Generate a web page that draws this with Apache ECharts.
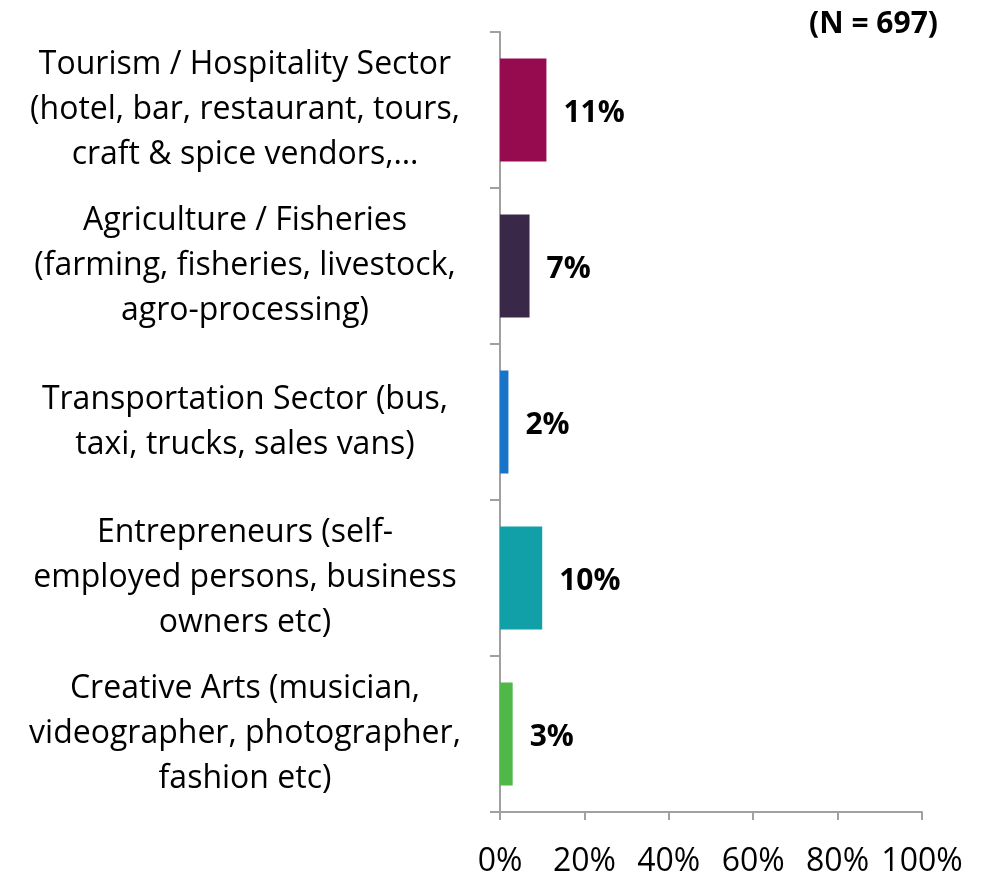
<!DOCTYPE html>
<html>
<head>
<meta charset="utf-8">
<script src="https://cdn.jsdelivr.net/npm/echarts@6/dist/echarts.min.js"></script>
<style>
  html, body { margin: 0; padding: 0; background: #fff; }
  #main { width: 981px; height: 878px; }
</style>
</head>
<body>
<div id="main"></div>
<script>
const categories = [
  'Tourism / Hospitality Sector\n(hotel, bar, restaurant, tours,\ncraft & spice vendors,…',
  'Agriculture / Fisheries\n(farming, fisheries, livestock,\nagro-processing)',
  'Transportation Sector (bus,\ntaxi, trucks, sales vans)',
  'Entrepreneurs (self-\nemployed persons, business\nowners etc)',
  'Creative Arts (musician,\nvideographer, photographer,\nfashion etc)'
];
const values = [11, 7, 2, 10, 3];
const barColors = ['#960A50', '#3A2848', '#1874C8', '#12A0A8', '#50B848'];
const xTicks = [0, 20, 40, 60, 80, 100];

const font = 'Open Sans, Noto Sans, sans-serif';
const chart = echarts.init(document.getElementById('main'));

chart.setOption({
  animation: false,
  title: {
    text: '(N = 697)',
    right: 38,
    top: 4,
    textStyle: { fontFamily: font, fontSize: 30, fontWeight: 'bold', color: '#000' }
  },
  grid: { left: 500, right: 59, top: 32, bottom: 65 },
  xAxis: {
    type: 'value',
    min: xTicks[0],
    max: xTicks[xTicks.length - 1],
    interval: 20,
    splitLine: { show: false },
    axisLine: { show: true, lineStyle: { color: '#A0A0A0', width: 2 } },
    axisTick: { show: true, length: 8, lineStyle: { color: '#A0A0A0', width: 2 } },
    axisLabel: {
      margin: 34,
      fontFamily: font,
      fontSize: 32,
      color: '#000',
      formatter: v => v + '%'
    }
  },
  yAxis: {
    type: 'category',
    inverse: true,
    data: categories,
    axisLine: { show: true, lineStyle: { color: '#A0A0A0', width: 2 } },
    axisTick: { show: true, length: 10, lineStyle: { color: '#A0A0A0', width: 2 } },
    axisLabel: {
      margin: 255,
      align: 'center',
      fontFamily: font,
      fontSize: 32,
      lineHeight: 45,
      color: '#000'
    }
  },
  series: [{
    type: 'bar',
    barWidth: '66%',
    data: values.map((v, i) => ({ value: v, itemStyle: { color: barColors[i] } })),
    label: {
      show: true,
      position: 'right',
      distance: 17,
      offset: [0, 3],
      fontFamily: font,
      fontSize: 30,
      fontWeight: 'bold',
      color: '#000',
      formatter: p => p.value + '%'
    }
  }]
});
</script>
</body>
</html>
